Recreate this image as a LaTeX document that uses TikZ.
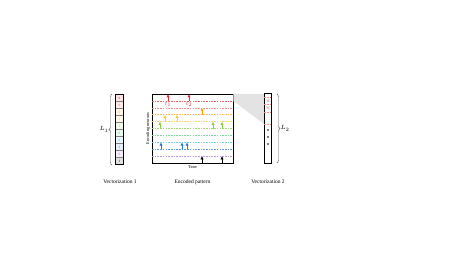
\documentclass[tikz,border=0pt]{standalone}
\usepackage{fontspec}
\setmainfont{Liberation Serif}
\usetikzlibrary{decorations.pathreplacing,arrows.meta}
\definecolor{lA}{RGB}{225,45,55}
\definecolor{lB}{RGB}{240,100,100}
\definecolor{lC}{RGB}{255,160,20}
\definecolor{lD}{RGB}{250,200,50}
\definecolor{lE}{RGB}{140,205,70}
\definecolor{lF}{RGB}{80,200,130}
\definecolor{lG}{RGB}{70,190,230}
\definecolor{lH}{RGB}{40,120,215}
\definecolor{lI}{RGB}{165,115,210}
\tikzset{
  lvl/.style={dash pattern=on 1.6pt off 1.1pt, line width=0.45pt},
  spk/.style={-{Triangle[length=3pt,width=2.8pt]}, line width=0.8pt},
  captxt/.style={font=\fontsize{5.5}{6}\selectfont, inner sep=0pt},
  small/.style={font=\fontsize{4.3}{5}\selectfont, inner sep=0pt},
  digit/.style={font=\fontsize{3.4}{3.6}\selectfont, inner sep=0pt},
  vecbox/.style={draw, line width=0.6pt, minimum width=7.5pt, minimum height=70pt, inner sep=0pt},
  brc/.style={decorate, decoration={brace, amplitude=3pt}, line width=0.4pt, gray!70!black}
}
\begin{document}
\begin{tikzpicture}[x=1pt,y=-1pt]
\useasboundingbox (0,0) rectangle (473,266);
% Vectorization 1
\foreach \i/\cl in {0/lA,1/lB,2/lC,3/lD,4/lE,5/lF,6/lG,7/lH,8/lI,9/black} {
  \fill[\cl!12] (116,{94.5+7*\i}) rectangle (123,{101.5+7*\i});
}
\node[vecbox] (v1) at (119.5,129.5) {};
\foreach \i in {1,...,9} {\draw[line width=0.3pt, gray] (116,{94.5+7*\i}) -- (123,{94.5+7*\i});}
\foreach \i/\dg/\cl in {0/0/lA,1/0/lB,2/1/lC,3/1/lD,4/1/lE,5/0/lF,6/0/lG,7/1/lH,8/0/lI,9/1/black} {
  \node[digit, text=\cl] (d\i) at (119.5,{98+7*\i}) {\dg};
}
\draw[brc] (112,165) -- (112,94);
\node[font=\fontsize{6}{7}\selectfont] (L1) at (104,129.5) {$L_1$};
\node[captxt] (c1) at (120,182) {Vectorization 1};

% Encoded pattern
\node[draw, line width=0.6pt, minimum width=81pt, minimum height=69pt, inner sep=0pt] (enc) at (192.5,128.5) {};
\foreach \k/\cl in {1/lA,2/lB,3/lC,4/lD,5/lE,6/lF,7/lG,8/lH,9/lI} {
  \coordinate (a\k) at (152,{94+6.9*\k});
  \coordinate (b\k) at (233,{94+6.9*\k});
  \draw[lvl, \cl!75] (a\k) -- (b\k);
}
% spikes
\foreach \x in {168,189} {\draw[spk, lA] (\x,100.9) -- (\x,94.3);}
\node[digit, text=lA] (t1) at (168,104.3) {$t_1$};
\node[digit, text=lA] (t2) at (189,104.3) {$t_2$};
\foreach \x in {202} {\draw[spk, lC] (\x,114.7) -- (\x,108.1);}
\foreach \x in {165,177} {\draw[spk, lD] (\x,121.6) -- (\x,115.0);}
\foreach \x in {160,213,222} {\draw[spk, lE] (\x,128.5) -- (\x,121.9);}
\foreach \x in {161,182,187} {\draw[spk, lH] (\x,149.2) -- (\x,142.6);}
\foreach \x in {202,222} {\draw[spk, black] (\x,163) -- (\x,156.4);}
\node[small, rotate=90] (yl) at (148,128.5) {Encoding neurons};
\node[small] (xl) at (192.5,167.5) {Time};
\node[captxt] (c2) at (192.5,182) {Encoded pattern};

% zoom shading
\fill[gray!22] (233.3,94) -- (264,94) -- (264,124) -- (233.3,101) -- cycle;

% Vectorization 2
\node[vecbox, fill=white] (v2) at (268,128.5) {};
\foreach \y in {97,104.5,112,124} {\draw[lvl, lB!75] (264.3,\y) -- (271.7,\y);}
\foreach \y in {100.8,108.2} {\node[digit, text=lA] at (268,\y) {$\times$};}
\foreach \y in {130,137,144} {\fill (268,\y) circle (0.9pt);}
\draw[brc] (277,94) -- (277,163);
\node[font=\fontsize{6}{7}\selectfont] (L2) at (285,128.5) {$L_2$};
\node[captxt] (c3) at (268,182) {Vectorization 2};
\end{tikzpicture}
\end{document}
